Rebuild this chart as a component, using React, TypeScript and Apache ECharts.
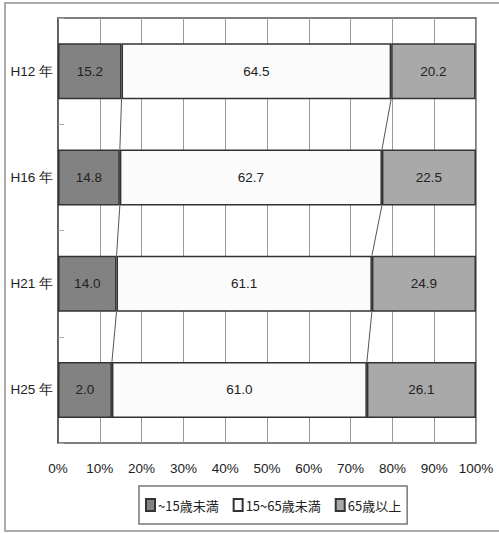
import React, { useEffect, useRef } from "react";
import * as echarts from "echarts";

const categories = ["H12 年", "H16 年", "H21 年", "H25 年"];
const seriesNames = ["~15歳未満", "15~65歳未満", "65歳以上"];
const under15 = [15.2, 14.8, 14.0, 12.9];
const under15Labels = ["15.2", "14.8", "14.0", "2.0"];
const age15to65 = [64.5, 62.7, 61.1, 61.0];
const over65 = [20.2, 22.5, 24.9, 26.1];

const BAR_W = 56;

export default function App() {
  const ref = useRef<HTMLDivElement>(null);
  useEffect(() => {
    if (!ref.current) return;
    const chart = echarts.init(ref.current, null, { renderer: "svg" });

    const connectors: number[][] = [];
    for (let i = 0; i < categories.length - 1; i++) {
      connectors.push([i, under15[i], under15[i + 1]]);
      connectors.push([i, under15[i] + age15to65[i], under15[i + 1] + age15to65[i + 1]]);
    }

    const labelStyle = { show: true, position: "inside", color: "#222", fontSize: 13.5, fontFamily: "Liberation Sans, Arial, sans-serif" };

    chart.setOption({
      animation: false,
      backgroundColor: "#fff",
      grid: { left: 58, right: 23, top: 18, bottom: 90, show: true, borderColor: "#555", borderWidth: 1.5, backgroundColor: "transparent" },
      xAxis: {
        type: "value",
        min: 0,
        max: 100,
        interval: 10,
        axisLine: { show: false },
        axisTick: { show: false },
        splitLine: { show: true, lineStyle: { color: "#9a9a9a", width: 1 } },
        axisLabel: { formatter: "{value}%", color: "#222", fontSize: 13.5, margin: 18, fontFamily: "Liberation Sans, Arial, sans-serif" },
      },
      yAxis: {
        type: "category",
        data: categories,
        inverse: true,
        axisLine: { show: true, lineStyle: { color: "#555", width: 1.5 } },
        axisTick: { show: true, inside: true, length: 6, lineStyle: { color: "#aaa" } },
        axisLabel: { color: "#222", fontSize: 13.5, margin: 5, fontFamily: "Liberation Sans, Arial, sans-serif" },
        splitLine: { show: false },
      },
      legend: {
        data: seriesNames,
        icon: "rect",
        bottom: 9,
        left: 139,
        itemWidth: 9,
        itemHeight: 12,
        itemGap: 14,
        padding: [12, 6],
        borderColor: "#777",
        borderWidth: 1.5,
        textStyle: { color: "#222", fontSize: 13, fontFamily: "Noto Sans CJK JP, sans-serif", padding: [0, 0, 0, -2] },
      },
      graphic: [
        { type: "rect", shape: { x: 5, y: 3, width: 500, height: 528 }, style: { fill: "none", stroke: "#aaa", lineWidth: 2 }, silent: true, z: -10 },
      ],
      series: [
        {
          name: seriesNames[0],
          type: "bar",
          stack: "total",
          barWidth: BAR_W,
          data: under15,
          itemStyle: { color: "#828282", borderColor: "#333", borderWidth: 1.5 },
          label: { ...labelStyle, formatter: (p: any) => under15Labels[p.dataIndex] },
        },
        {
          name: seriesNames[1],
          type: "bar",
          stack: "total",
          barWidth: BAR_W,
          data: age15to65,
          itemStyle: { color: "#fbfbfb", borderColor: "#333", borderWidth: 1.5 },
          label: { ...labelStyle, formatter: (p: any) => p.value.toFixed(1) },
        },
        {
          name: seriesNames[2],
          type: "bar",
          stack: "total",
          barWidth: BAR_W,
          data: over65,
          itemStyle: { color: "#a9a9a9", borderColor: "#333", borderWidth: 1.5 },
          label: { ...labelStyle, formatter: (p: any) => p.value.toFixed(1) },
        },
        {
          type: "custom",
          name: "connectors",
          data: connectors,
          encode: { x: [1, 2], y: 0 },
          z: 5,
          renderItem: (params: any, api: any) => {
            const i = api.value(0);
            const a = api.value(1);
            const b = api.value(2);
            const p1 = api.coord([a, i]);
            const p2 = api.coord([b, i + 1]);
            return {
              type: "line",
              shape: { x1: p1[0], y1: p1[1] + BAR_W / 2, x2: p2[0], y2: p2[1] - BAR_W / 2 },
              style: { stroke: "#555", lineWidth: 1 },
            };
          },
        },
      ],
    });
    return () => chart.dispose();
  }, []);
  return <div ref={ref} style={{ position: "fixed", left: 0, top: 0, width: 499, height: 533 }} />;
}
